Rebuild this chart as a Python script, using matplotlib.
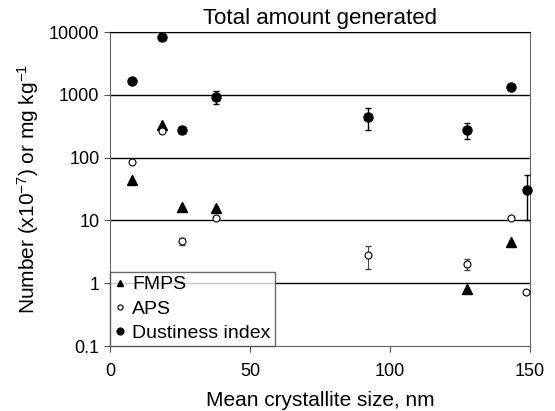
import numpy as np
import matplotlib
matplotlib.use("Agg")
import matplotlib.pyplot as plt

plt.rcParams['font.family'] = ['Liberation Sans', 'DejaVu Sans']

# crystallite size (nm) and values
fmps_x = [8, 18.5, 25.6, 38, 127.4, 143.3]
fmps_y = [44, 330, 16.5, 15.6, 0.8, 4.5]

aps_x = [8, 18.5, 25.6, 38, 92, 127.4, 143.3, 148.7]
aps_y = [84, 265, 4.7, 11, 2.8, 2.0, 11, 0.73]
aps_lo = [0, 0, 0.6, 0, 1.1, 0.38, 0, 0]
aps_hi = [0, 0, 0.6, 0, 1.15, 0.4, 0, 0]

dust_x = [8, 18.5, 25.6, 38, 92, 127.4, 143.3, 149]
dust_y = [1680, 8230, 275, 930, 443, 275, 1345, 31]
dust_lo = [0, 0, 0, 216, 171, 80, 0, 21]
dust_hi = [0, 0, 0, 220, 174, 76, 0, 21]

fig, ax = plt.subplots(figsize=(5.55, 4.11), dpi=100)
fig.subplots_adjust(left=0.198, right=0.955, top=0.922, bottom=0.158)

ax.set_yscale('log')
ax.set_ylim(0.1, 10000)
ax.set_xlim(0, 150)
for v in [1, 10, 100, 1000, 10000]:
    ax.axhline(v, color='black', lw=1.0, zorder=1)

# error bars first, markers on top
ax.errorbar(aps_x, aps_y, yerr=[aps_lo, aps_hi], fmt='none', ecolor='#444444',
            elinewidth=0.8, capsize=2.5, zorder=3)
ax.errorbar(dust_x, dust_y, yerr=[dust_lo, dust_hi], fmt='none', ecolor='black',
            elinewidth=1.0, capsize=2.5, zorder=3, clip_on=False)

ax.plot(fmps_x, fmps_y, '^', color='black', ms=6.5, label='FMPS', zorder=4, clip_on=False)
ax.plot(aps_x, aps_y, 'o', mfc='white', mec='black', mew=0.8, ms=5, label='APS',
        zorder=4, clip_on=False)
ax.plot(dust_x, dust_y, 'o', color='black', ms=6.5, label='Dustiness index',
        zorder=5, clip_on=False)

ax.set_xticks([0, 50, 100, 150])
ax.set_yticks([0.1, 1, 10, 100, 1000, 10000])
ax.set_yticklabels(['0.1', '1', '10', '100', '1000', '10000'])
ax.minorticks_off()
ax.tick_params(labelsize=13, direction='out', length=4, color='#555555')
ax.tick_params(axis='x', pad=8)

for s in ['left', 'bottom', 'right']:
    ax.spines[s].set_color('#666666')
ax.spines['top'].set_color('black')

ax.set_title('Total amount generated', fontsize=16, pad=6)
ax.set_xlabel('Mean crystallite size, nm', fontsize=15, labelpad=8)
ax.set_ylabel(r'Number (x10$\mathregular{^{-7}}$) or mg kg$\mathregular{^{-1}}$',
              fontsize=15, labelpad=6)

leg = ax.legend(loc='lower left', fontsize=14, frameon=True, fancybox=False,
                borderaxespad=0, handlelength=0.6, handletextpad=0.35,
                labelspacing=0.35, borderpad=0.2, markerscale=0.75)
leg.get_frame().set_edgecolor('#444444')
leg.get_frame().set_linewidth(1.0)
leg.set_zorder(6)

fig.savefig('out.png', dpi=100)
